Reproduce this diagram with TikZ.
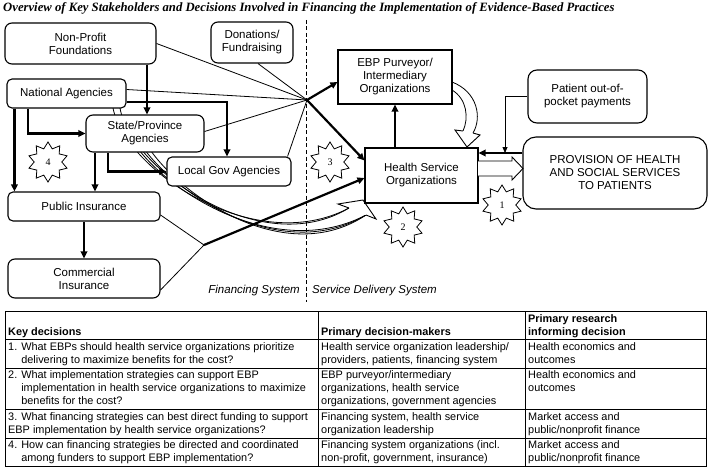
\documentclass[tikz,border=0pt]{standalone}
\usepackage{fontspec}
\setmainfont{Liberation Sans}
\newfontfamily\timesfont{Liberation Serif}
\usetikzlibrary{shapes.geometric,arrows.meta}
\newcommand{\diafont}{\fontsize{11.5}{13}\selectfont}
\newcommand{\tabfont}{\fontsize{10.9}{13}\selectfont}

\begin{document}
\begin{tikzpicture}[x=1pt, y=-1pt, >={Triangle[length=7pt,width=6.5pt]}]
        \tikzstyle{every node}=[inner sep=0pt, align=center, font=\diafont]
        \tikzstyle{rbox}=[draw, fill=white, rounded corners=7pt, line width=1.1pt]
        \tikzstyle{sbox}=[draw, fill=white, line width=1.1pt]
        \tikzstyle{wire}=[line width=0.8pt]
        \tikzstyle{fat}=[line width=2.2pt]
        \tikzstyle{burst}=[star, star points=10, star point ratio=1.45, draw, fill=white, line width=0.8pt, minimum size=40pt, font=\timesfont\fontsize{10}{12}\selectfont]
        \tikzstyle{hollow}=[draw, fill=white, line width=0.9pt]
        \tikzstyle{tcell}=[anchor=north west, align=left, font=\tabfont]
        \useasboundingbox (0,0) rectangle (709,468);

        \node[anchor=west, font=\timesfont\bfseries\itshape\fontsize{12.7}{14}\selectfont] (title) at (3,8) {Overview of Key Stakeholders and Decisions Involved in Financing the Implementation of Evidence-Based Practices};

        \foreach \sx/\sy/\ax/\ay/\bx/\by/\ex/\ey in {113/108/125/170/255/258/349/208, 120/108/130/168/260/262/349/208, 128/130/140/172/265/268/366/215, 134/130/146/172/270/272/366/215, 140/130/152/174/275/276/366/215}
            \draw[wire] (\sx,\sy) .. controls (\ax,\ay) and (\bx,\by) .. (\ex,\ey);
        \draw[hollow] (349,208) -- (338,204) -- (363,200) -- (376,219) -- (366,215);
        \draw[wire, dash pattern=on 4pt off 2.5pt] (306,20) -- (306,302);

        \node[rbox, minimum width=151pt, minimum height=41pt] (nonprofit) at (80.5,43.5) {Non-Profit\\Foundations};
        \node[rbox, minimum width=82pt, minimum height=41pt] (donations) at (252,42.5) {Donations/\\Fundraising};
        \node[rbox, rounded corners=5pt, minimum width=119pt, minimum height=29pt] (national) at (66.5,93.5) {National Agencies};
        \node[rbox, minimum width=118pt, minimum height=37pt] (state) at (145,133.5) {State/Province\\Agencies};
        \node[rbox, rounded corners=5pt, minimum width=124pt, minimum height=29pt] (localgov) at (229,171.5) {Local Gov Agencies};
        \node[rbox, rounded corners=5pt, minimum width=152pt, minimum height=29pt] (public) at (84,206.5) {Public Insurance};
        \node[rbox, minimum width=152pt, minimum height=39pt] (commercial) at (84,278.5) {Commercial\\Insurance};
        \node[sbox, minimum width=114pt, minimum height=54pt] (ebp) at (395,77) {EBP Purveyor/\\Intermediary\\Organizations};
        \node[rbox, rounded corners=9pt, minimum width=119pt, minimum height=53pt] (patient) at (587.5,96.5) {Patient out-of-\\pocket payments};
        \node[sbox, minimum width=113pt, minimum height=55pt] (hso) at (421.5,175.5) {Health Service\\Organizations};
        \node[rbox, rounded corners=13pt, minimum width=184pt, minimum height=72pt] (provision) at (615,173) {PROVISION OF HEALTH\\AND SOCIAL SERVICES\\TO PATIENTS};

        \node[anchor=east, font=\diafont\itshape] (finlabel) at (300,291) {Financing System};
        \node[anchor=west, font=\diafont\itshape] (svclabel) at (312,291) {Service Delivery System};

        \node[burst] (star1) at (502,205) {1};
        \node[burst] (star2) at (403,227) {2};
        \node[burst] (star3) at (330,162) {3};
        \node[burst] (star4) at (48,162) {4};

        \draw[hollow] (478,161) -- (512,161) -- (512,157) -- (523,168.5) -- (512,180) -- (512,176) -- (478,176);
        \draw[wire] (452,82) .. controls (478,92) and (482,118) .. (473,133);
        \draw[wire] (452,90) .. controls (467,99) and (469,118) .. (463,131);
        \draw[hollow] (463,131) -- (455,130) -- (467,147) -- (480,135) -- (473,133);

        \coordinate (hubA) at (307,100);
        \coordinate (hubB) at (204,245);
        \coordinate (join) at (505,153);
        \draw[wire] (nonprofit.east) -- (hubA);
        \draw[wire] ([xshift=6pt]donations.south) -- (hubA);
        \draw[wire] ([yshift=4pt]national.east) -- (hubA);
        \draw[wire] ([yshift=2pt]state.east) -- (hubA);
        \draw[wire] ([xshift=-4pt]localgov.north east) -- (hubA);
        \draw[fat,->] (hubA) -- ([yshift=-5pt]ebp.west);
        \draw[fat,->] (hubA) -- ([yshift=15pt]hso.west);
        \draw[wire] ([yshift=-8.5pt]public.east) -- (hubB);
        \draw[wire] ([yshift=-11.5pt]commercial.east) -- (hubB);
        \draw[fat,->] (hubB) -- ([yshift=-2.5pt]hso.west);

        \draw[fat,->] ([xshift=66.5pt]nonprofit.south) -- ([xshift=2pt]state.north);
        \draw[fat,->] ([xshift=-38.5pt]national.south) |- (state.west);
        \draw[fat,->] ([xshift=8pt]national.south west) -- ([xshift=7pt]public.north west);
        \draw[fat,->] ([yshift=-8.5pt]national.east) -| ([xshift=-2pt]localgov.north);
        \draw[fat,->] ([xshift=-50pt]state.south) -- ([xshift=11pt]public.north);
        \draw[fat,->] ([xshift=-37pt]state.south) |- (localgov.west);
        \draw[fat,->] (public.south) -- (commercial.north);
        \draw[fat,->] (hso.north -| ebp.south) -- (ebp.south);
        \draw[wire,-{Triangle[length=6pt,width=5pt]}] (patient.west) -| (join);
        \draw[fat,->] (provision.west |- join) -- (hso.east |- join);

        \draw[wire] (5,311) rectangle (706,466.5);
        \foreach \ry in {339.5,368,409.5,438}
            \draw[wire] (5,\ry) -- (706,\ry);
        \foreach \cx in {318,525}
            \draw[wire] (\cx,311) -- (\cx,466.5);

        \node[tcell, font=\tabfont\bfseries] (kd) at (8,327.6) {Key decisions};
        \node[tcell, font=\tabfont\bfseries] (dm) at (321,327.6) {Primary decision-makers};
        \node[tcell, font=\tabfont\bfseries] (ri) at (528,314.6) {Primary research\\informing decision};
        \node[tcell] (q1) at (8,342) {1. What EBPs should health service organizations prioritize\\\phantom{1. }delivering to maximize benefits for the cost?};
        \node[tcell] (m1) at (321,342) {Health service organization leadership/\\providers, patients, financing system};
        \node[tcell] (r1) at (528,342) {Health economics and\\outcomes};
        \node[tcell] (q2) at (8,370.6) {2. What implementation strategies can support EBP\\\phantom{2. }implementation in health service organizations to maximize\\\phantom{2. }benefits for the cost?};
        \node[tcell] (m2) at (321,370.6) {EBP purveyor/intermediary\\organizations, health service\\organizations, government agencies};
        \node[tcell] (r2) at (528,370.6) {Health economics and\\outcomes};
        \node[tcell] (q3) at (8,412) {3. What financing strategies can best direct funding to support\\EBP implementation by health service organizations?};
        \node[tcell] (m3) at (321,412) {Financing system, health service\\organization leadership};
        \node[tcell] (r3) at (528,412) {Market access and\\public/nonprofit finance};
        \node[tcell] (q4) at (8,440.6) {4. How can financing strategies be directed and coordinated\\\phantom{4. }among funders to support EBP implementation?};
        \node[tcell] (m4) at (321,440.6) {Financing system organizations (incl.\\non-profit, government, insurance)};
        \node[tcell] (r4) at (528,440.6) {Market access and\\public/nonprofit finance};
    \end{tikzpicture}
\end{document}
